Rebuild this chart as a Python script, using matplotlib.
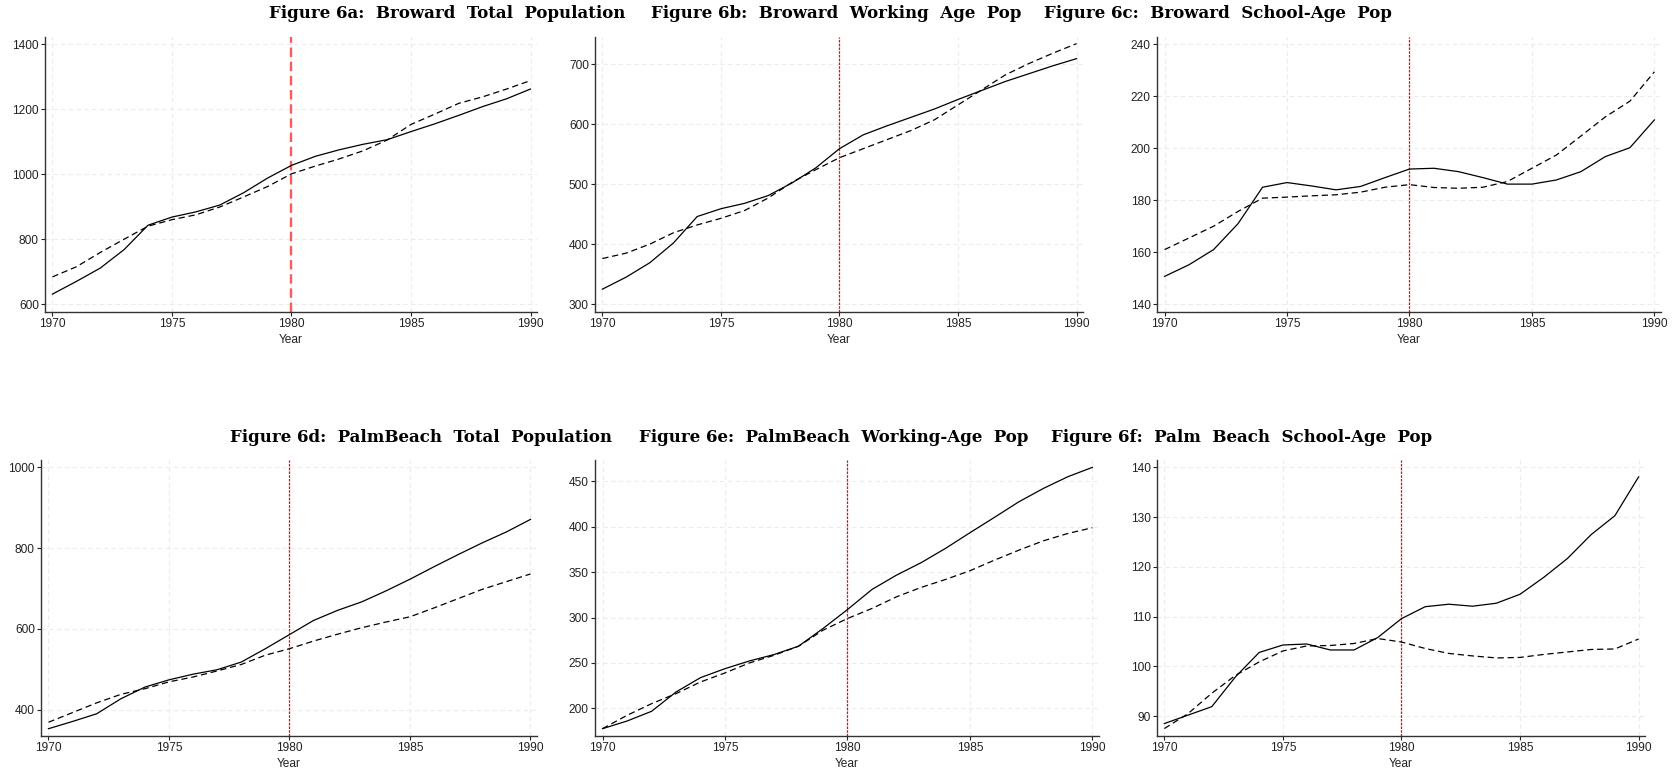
import matplotlib
matplotlib.use("Agg")
import matplotlib.pyplot as plt
import numpy as np

years = np.arange(1970, 1991)

# Figure 6a: Broward total population
broward_total = [631, 670, 711, 768, 843, 868, 884, 905, 943, 988, 1027,
                 1055, 1075, 1092, 1106, 1131, 1155, 1181, 1208, 1232, 1262]
broward_total_synth = [684, 715, 759, 800, 840, 860, 875, 899, 930, 962, 1001,
                       1025, 1047, 1072, 1105, 1153, 1185, 1218, 1238, 1262, 1288]

# Figure 6b: Broward working age
broward_work = [325, 345, 369, 402, 446, 459, 468, 481, 502, 527, 559,
                582, 597, 611, 625, 641, 656, 671, 684, 697, 709]
broward_work_synth = [376, 385, 400, 419, 432, 443, 456, 477, 503, 524, 544,
                      559, 574, 589, 607, 632, 657, 682, 701, 718, 734]

# Figure 6c: Broward school age
broward_school = [150.7, 155.2, 161, 171, 185, 186.8, 185.5, 184, 185.3, 188.7, 192,
                  192.3, 191, 188.7, 186.2, 186.2, 187.8, 191, 196.8, 200.2, 210.9]
broward_school_synth = [161, 165.5, 170, 175.7, 180.8, 181.2, 181.7, 182.1, 183.1, 185, 186,
                        184.9, 184.6, 185, 187.2, 192.3, 197.4, 204.7, 212.1, 218.1, 229.4]

# Figure 6d: Palm Beach total population
palm_total = [353, 371, 390, 427, 456, 474, 488, 499, 518, 551, 586,
              621, 646, 667, 694, 723, 754, 784, 813, 840, 871]
palm_total_synth = [369, 393, 417, 438, 452, 469, 481, 496, 512, 535, 551,
                    570, 587, 603, 617, 630, 652, 675, 698, 717, 736]

# Figure 6e: Palm Beach working age
palm_work = [177.6, 186, 196.7, 218, 233.8, 243.7, 252.2, 259.2, 268.4, 287.9, 308.8,
             330.9, 346.7, 360.3, 376.1, 393.4, 410.3, 427.5, 442.2, 455.1, 465.4]
palm_work_synth = [177.6, 192.3, 205.1, 216.2, 229, 239, 250, 258.4, 268.4, 286, 298.9,
                   310, 322.8, 333.1, 341.9, 351.5, 363.2, 374.2, 384.5, 392.6, 398.9]

# Figure 6f: Palm Beach school age
palm_school = [88.5, 90.2, 91.9, 97.9, 102.8, 104.3, 104.5, 103.3, 103.3, 105.8, 109.6,
               112, 112.5, 112.1, 112.7, 114.5, 117.9, 121.7, 126.5, 130.3, 138.1]
palm_school_synth = [87.5, 90.5, 94.6, 98.2, 100.9, 103.1, 104.1, 104.2, 104.6, 105.6, 104.9,
                     103.6, 102.6, 102.1, 101.7, 101.8, 102.4, 102.9, 103.4, 103.5, 105.5]

titles = ["Figure 6a:  Broward  Total  Population",
          "Figure 6b:  Broward  Working  Age  Pop",
          "Figure 6c:  Broward  School-Age  Pop",
          "Figure 6d:  PalmBeach  Total  Population",
          "Figure 6e:  PalmBeach  Working-Age  Pop",
          "Figure 6f:  Palm  Beach  School-Age  Pop"]
title_x = [447, 836, 1218, 421, 834, 1242]   # title centres, px
title_y = [14, 14, 14, 437, 437, 437]

yticks = [[600, 800, 1000, 1200, 1400],
          [300, 400, 500, 600, 700],
          [140, 160, 180, 200, 220, 240],
          [400, 600, 800, 1000],
          [200, 250, 300, 350, 400, 450],
          [90, 100, 110, 120, 130, 140]]
ylims = [(576, 1422), (287, 745), (137, 242.8), (335, 1018), (169.5, 473.5), (86, 141.5)]

series = [(broward_total, broward_total_synth),
          (broward_work, broward_work_synth),
          (broward_school, broward_school_synth),
          (palm_total, palm_total_synth),
          (palm_work, palm_work_synth),
          (palm_school, palm_school_synth)]

# axes boxes in pixels: left, right, top, bottom
boxes = [(45, 537, 37, 312), (595, 1083, 37, 312), (1157, 1661, 37, 312),
         (41, 537, 460, 736), (595, 1099, 460, 736), (1157, 1645, 460, 736)]

W, H = 1676, 773
fig = plt.figure(figsize=(W / 100, H / 100), dpi=100)
plt.rcParams['font.family'] = ['Liberation Sans', 'DejaVu Sans']

for i in range(6):
    l, r, t, b = boxes[i]
    ax = fig.add_axes([l / W, 1 - b / H, (r - l) / W, (b - t) / H])
    actual, synth = series[i]
    ax.plot(years, actual, color='black', lw=0.9, zorder=3)
    ax.plot(years, synth, color='black', lw=0.9, dashes=(5, 3), zorder=3)
    if i == 0:
        ax.axvline(1980, color='#ff5a5a', lw=1.7, dashes=(4, 2), zorder=2)
    else:
        ax.axvline(1980, color='red', lw=0.9, dashes=(2, 1), zorder=2)
    ax.set_xlim(1969.69, 1990.27)
    ax.set_ylim(*ylims[i])
    ax.set_xticks([1970, 1975, 1980, 1985, 1990])
    ax.set_yticks(yticks[i])
    ax.grid(True, color='#ececec', lw=0.8, dashes=(4, 3))
    ax.set_axisbelow(True)
    for s in ['top', 'right']:
        ax.spines[s].set_visible(False)
    for s in ['left', 'bottom']:
        ax.spines[s].set_color('#333333')
        ax.spines[s].set_linewidth(1.0)
    ax.tick_params(labelsize=8.6, colors='#222222', length=3, width=0.8, pad=1.5)
    ax.set_xlabel('Year', fontsize=8.6, color='#222222', labelpad=3)
    fig.text(title_x[i] / W, 1 - title_y[i] / H, titles[i], family='DejaVu Serif',
             weight='bold', fontsize=12, ha='center', va='center')

fig.savefig('out.png', dpi=100)
